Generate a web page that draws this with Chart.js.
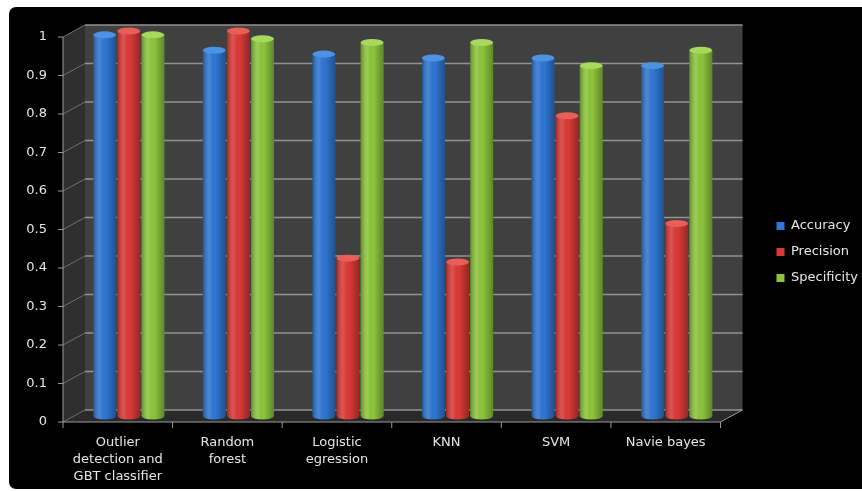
<!DOCTYPE html>
<html>
<head>
<meta charset="utf-8">
<script src="https://cdn.jsdelivr.net/npm/chart.js@4/dist/chart.umd.min.js"></script>
<style>
  html, body { margin: 0; padding: 0; background: #fff; }
  #wrap { position: absolute; left: 9px; top: 7px; width: 853px; height: 482px; background: #000; border-radius: 7px 0 0 7px; overflow: hidden; }
</style>
</head>
<body>
<div id="wrap"><canvas id="chart" width="853" height="482"></canvas></div>
<script>
// data
const categories = [["Outlier", "detection and", "GBT classifier"], ["Random", "forest"], ["Logistic", "egression"], "KNN", "SVM", "Navie bayes"];
const accuracy = [0.99, 0.95, 0.94, 0.93, 0.93, 0.91];
const precision = [1.0, 1.0, 0.41, 0.40, 0.78, 0.50];
const specificity = [0.99, 0.98, 0.97, 0.97, 0.91, 0.95];
const yTickValues = [0, 0.1, 0.2, 0.3, 0.4, 0.5, 0.6, 0.7, 0.8, 0.9, 1];
const yTickLabels = ["0", "0.1", "0.2", "0.3", "0.4", "0.5", "0.6", "0.7", "0.8", "0.9", "1"];

const seriesColors = ["#2f77d2", "#da3a37", "#8dc63c"];
const capColors = ["#4d92e3", "#ea5d58", "#a8d85c"];

Chart.defaults.font.family = "'DejaVu Sans', sans-serif";
Chart.defaults.font.size = 13;
Chart.defaults.color = "#e6e6e6";

// depth offset of the fake 3d box (mid-depth -> back wall)
const dx = 11, dy = 6;

const wallPlugin = {
    id: "walls",
    afterLayout(chart) {
        // lift the legend a little, like the original
        chart.legend.bottom -= 16;
    },
    beforeDatasetsDraw(chart) {
        const ctx = chart.ctx;
        const a = chart.chartArea;
        const ys = chart.scales.y;
        const y0 = ys.getPixelForValue(0), y1 = ys.getPixelForValue(1);
        ctx.save();
        // side wall
        ctx.fillStyle = "#2f2f2f";
        ctx.beginPath();
        ctx.moveTo(a.left - dx, y1 + dy);
        ctx.lineTo(a.left + dx, y1 - dy);
        ctx.lineTo(a.left + dx, y0 - dy);
        ctx.lineTo(a.left - dx, y0 + dy);
        ctx.closePath();
        ctx.fill();
        // back wall
        ctx.fillStyle = "#404040";
        ctx.fillRect(a.left + dx, y1 - dy, a.right - a.left, y0 - y1);
        // floor
        ctx.fillStyle = "#2a2a2a";
        ctx.beginPath();
        ctx.moveTo(a.left - dx, y0 + dy);
        ctx.lineTo(a.left + dx, y0 - dy);
        ctx.lineTo(a.right + dx, y0 - dy);
        ctx.lineTo(a.right - dx, y0 + dy);
        ctx.closePath();
        ctx.fill();
        // grid lines
        yTickValues.forEach(v => {
            const y = ys.getPixelForValue(v);
            ctx.strokeStyle = "#929292";
            ctx.lineWidth = 1.5;
            ctx.beginPath();
            ctx.moveTo(a.left + dx, y - dy);
            ctx.lineTo(a.right + dx, y - dy);
            ctx.stroke();
            ctx.strokeStyle = "#707070";
            ctx.lineWidth = 1;
            ctx.beginPath();
            ctx.moveTo(a.left - dx, y + dy);
            ctx.lineTo(a.left + dx, y - dy);
            ctx.stroke();
            // tick mark on front axis
            ctx.strokeStyle = "#9a9a9a";
            ctx.beginPath();
            ctx.moveTo(a.left - dx - 5, y + dy);
            ctx.lineTo(a.left - dx, y + dy);
            ctx.stroke();
        });
        // front axis lines
        ctx.strokeStyle = "#9a9a9a";
        ctx.lineWidth = 1;
        ctx.beginPath();
        ctx.moveTo(a.left - dx, y1 + dy);
        ctx.lineTo(a.left - dx, y0 + dy);
        ctx.lineTo(a.right - dx, y0 + dy);
        ctx.lineTo(a.right + dx, y0 - dy);
        ctx.stroke();
        const cw = (a.right - a.left) / categories.length;
        for (let i = 0; i <= categories.length; i++) {
            const x = a.left + i * cw - dx;
            ctx.beginPath();
            ctx.moveTo(x, y0 + dy);
            ctx.lineTo(x, y0 + dy + 6);
            ctx.stroke();
        }
        ctx.restore();
    },
    afterDatasetsDraw(chart) {
        const ctx = chart.ctx;
        ctx.save();
        chart.data.datasets.forEach((ds, di) => {
            chart.getDatasetMeta(di).data.forEach(el => {
                const w = el.width, l = el.x - w / 2;
                // rounded bottom
                ctx.fillStyle = seriesColors[di];
                ctx.beginPath();
                ctx.ellipse(el.x, el.base, w / 2, 3.5, 0, 0, Math.PI * 2);
                ctx.fill();
                // cylinder shading
                const g = ctx.createLinearGradient(l, 0, l + w, 0);
                g.addColorStop(0, "rgba(0,0,0,0.30)");
                g.addColorStop(0.3, "rgba(255,255,255,0.12)");
                g.addColorStop(0.55, "rgba(0,0,0,0)");
                g.addColorStop(1, "rgba(0,0,0,0.32)");
                ctx.fillStyle = g;
                ctx.beginPath();
                ctx.rect(l, el.y, w, el.base - el.y);
                ctx.ellipse(el.x, el.base, w / 2, 3.5, 0, 0, Math.PI);
                ctx.fill();
                // top cap
                ctx.fillStyle = capColors[di];
                ctx.beginPath();
                ctx.ellipse(el.x, el.y, w / 2, 3.5, 0, 0, Math.PI * 2);
                ctx.fill();
            });
        });
        ctx.restore();
    }
};

new Chart(document.getElementById("chart"), {
    type: "bar",
    data: {
        labels: categories,
        datasets: [
            { label: "Accuracy", data: accuracy, backgroundColor: seriesColors[0] },
            { label: "Precision", data: precision, backgroundColor: seriesColors[1] },
            { label: "Specificity", data: specificity, backgroundColor: seriesColors[2] }
        ]
    },
    options: {
        responsive: false,
        animation: false,
        layout: { padding: { top: 24, right: -6, left: 0, bottom: 0 } },
        datasets: { bar: { barPercentage: 0.95, categoryPercentage: 0.66, borderWidth: 0 } },
        scales: {
            x: {
                grid: { display: false, drawTicks: false },
                border: { display: false },
                ticks: { maxRotation: 0, autoSkip: false, padding: 18, labelOffset: -dx, font: { lineHeight: 1.3 } },
                afterFit: s => { s.height = 73; }
            },
            y: {
                min: 0, max: 1,
                grid: { display: false, drawTicks: false },
                border: { display: false },
                ticks: {
                    stepSize: 0.1,
                    padding: 27,
                    labelOffset: dy,
                    callback: v => yTickLabels[Math.round(v * 10)]
                },
                afterFit: s => { s.width = 65; s.paddingTop = 0; s.paddingBottom = 0; }
            },
            gap: {
                type: "linear",
                position: "right",
                display: true,
                grid: { display: false, drawTicks: false },
                border: { display: false },
                ticks: { display: false },
                afterFit: s => { s.width = 32; }
            }
        },
        plugins: {
            legend: {
                position: "right",
                labels: { boxWidth: 8, boxHeight: 8, padding: 13, color: "#e6e6e6" }
            },
            tooltip: { enabled: false }
        }
    },
    plugins: [wallPlugin]
});
</script>
</body>
</html>
